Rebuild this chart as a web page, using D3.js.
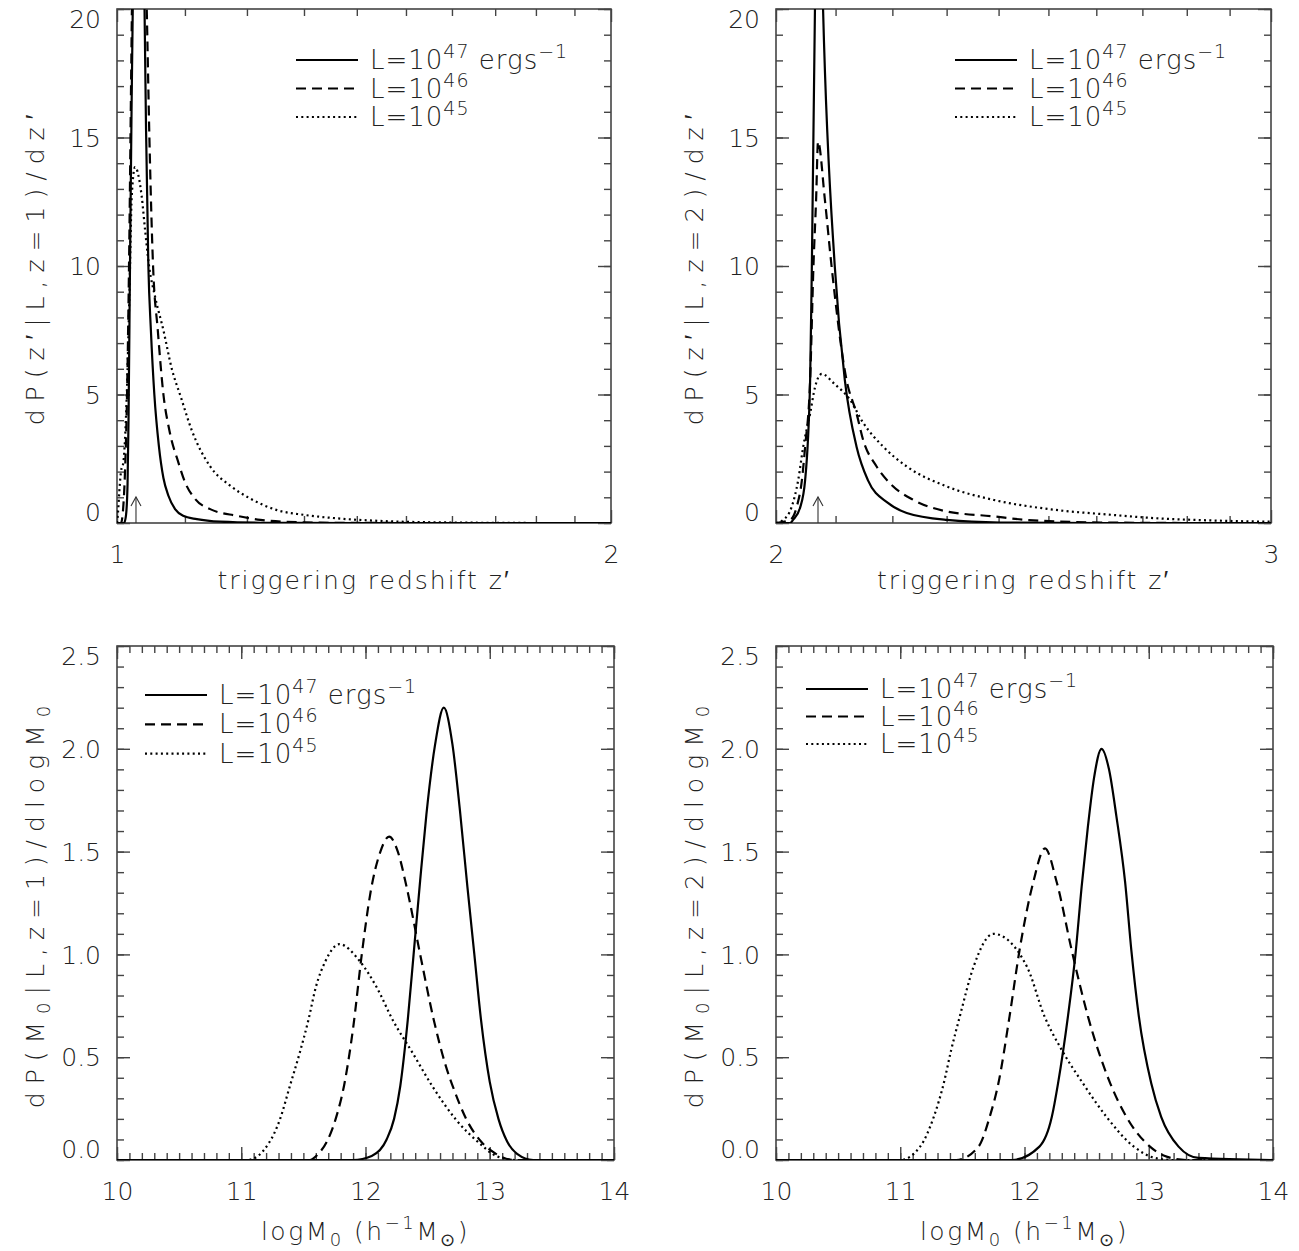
<!DOCTYPE html>
<html>
<head>
<meta charset="utf-8">
<script src="https://cdnjs.cloudflare.com/ajax/libs/d3/7.8.5/d3.min.js"></script>
<style>
body { margin: 0; background: #fff; }
svg { display: block; }
text { font-family: "DejaVu Sans", sans-serif; font-weight: 200; fill: #222; }
</style>
</head>
<body>
<script>
// top left: z = 1, triggering redshift z'
var zTL_L47 = [1.0, 1.0099, 1.0127, 1.0149, 1.0163, 1.0184, 1.0206, 1.0228, 1.0301, 1.0394, 1.0416, 1.0450, 1.0487, 1.0538, 1.0605, 1.0673, 1.0748, 1.0849, 1.0972, 1.1185, 1.1559, 1.2228, 1.4, 2.0];
var dpTL_L47 = [0, 0, 0.3, 1.5, 4, 10, 16, 21, 37, 20, 15.3, 10, 7.5, 5, 3, 1.75, 1.06, 0.54, 0.28, 0.15, 0.05, 0.01, 0, 0];
var zTL_L46 = [1.0, 1.0056, 1.0085, 1.0113, 1.0142, 1.0170, 1.0199, 1.0220, 1.0271, 1.0426, 1.0465, 1.0519, 1.0589, 1.0673, 1.0763, 1.0900, 1.1003, 1.1160, 1.1397, 1.1833, 1.2228, 1.2932, 1.3877, 1.6, 2.0];
var dpTL_L46 = [0, 0, 0.5, 2, 5, 10, 17, 22, 32, 20, 15, 10, 7.5, 5, 3.6, 2.35, 1.58, 0.93, 0.54, 0.28, 0.12, 0.03, 0.005, 0, 0];
var zTL_L45 = [1.0, 1.0014, 1.0032, 1.0056, 1.0089, 1.0137, 1.0175, 1.0209, 1.0256, 1.0353, 1.0402, 1.0460, 1.0549, 1.0673, 1.0799, 1.0937, 1.1107, 1.1397, 1.1721, 1.2057, 1.2519, 1.2987, 1.3620, 1.4474, 1.5974, 1.8303, 2.0];
var dpTL_L45 = [0, 0.4, 1.2, 2, 2.35, 4.9, 8.8, 12.7, 13.85, 12.7, 11.4, 10, 8.8, 7.5, 6.0, 4.9, 3.6, 2.2, 1.45, 0.95, 0.5, 0.32, 0.18, 0.08, 0.02, 0, 0];
var arrowTL = 1.027;

// top right: z = 2
var zTR_L47 = [2.0, 2.0232, 2.0282, 2.0399, 2.0483, 2.0567, 2.0596, 2.0651, 2.0708, 2.0786, 2.0986, 2.1160, 2.1364, 2.1563, 2.1920, 2.2260, 2.3003, 2.4033, 2.6096, 3.0];
var dpTR_L47 = [0, 0, 0.12, 0.6, 1.67, 5.56, 10, 20.5, 28, 20, 10, 5.56, 2.97, 1.67, 0.78, 0.39, 0.12, 0.02, 0, 0];
var zTR_L46 = [2.0, 2.0232, 2.0345, 2.0429, 2.0483, 2.0567, 2.0623, 2.0668, 2.0701, 2.0816, 2.0931, 2.1190, 2.1364, 2.1480, 2.1718, 2.2016, 2.2380, 2.3003, 2.3895, 2.4551, 2.6096, 2.8324, 3.0];
var dpTR_L46 = [0, 0.12, 0.65, 1.67, 2.97, 5.56, 10, 12.6, 14.84, 12.6, 10, 5.56, 4.26, 3.23, 2.2, 1.42, 0.9, 0.45, 0.26, 0.12, 0.02, 0, 0];
var zTR_L45 = [2.0, 2.0117, 2.0262, 2.0367, 2.0451, 2.0567, 2.0651, 2.0764, 2.0986, 2.1248, 2.1480, 2.1836, 2.2260, 2.3003, 2.3901, 2.5101, 2.6311, 2.7256, 2.8557, 3.0];
var dpTR_L45 = [0, 0.12, 0.65, 1.67, 2.97, 4.26, 5.3, 5.8, 5.4, 4.8, 3.9, 2.97, 2.2, 1.42, 0.9, 0.52, 0.32, 0.19, 0.1, 0.05];
var arrowTR = 2.07;

// bottom left: z = 1, log M0
var mBL_L47 = [10, 11.9, 12.05, 12.17, 12.23, 12.28, 12.34, 12.39, 12.44, 12.49, 12.56, 12.63, 12.70, 12.76, 12.82, 12.876, 12.93, 13.0, 13.07, 13.14, 13.22, 13.35, 14];
var dpBL_L47 = [0, 0, 0.02, 0.1, 0.2, 0.36, 0.68, 1.02, 1.36, 1.68, 2.02, 2.2, 2.02, 1.70, 1.33, 1.0, 0.68, 0.38, 0.2, 0.09, 0.03, 0, 0];
var mBL_L46 = [10, 11.55, 11.62, 11.69, 11.76, 11.83, 11.90, 11.97, 12.04, 12.12, 12.19, 12.26, 12.33, 12.44, 12.55, 12.64, 12.72, 12.81, 12.93, 13.05, 13.2, 14];
var dpBL_L46 = [0, 0, 0.03, 0.09, 0.2, 0.37, 0.64, 1.0, 1.3, 1.5, 1.573, 1.5, 1.33, 1.0, 0.68, 0.47, 0.33, 0.2, 0.09, 0.03, 0, 0];
var mBL_L45 = [10, 11.05, 11.22, 11.31, 11.39, 11.47, 11.54, 11.60, 11.68, 11.79, 11.95, 12.09, 12.22, 12.38, 12.54, 12.73, 12.92, 13.05, 13.2, 14];
var dpBL_L45 = [0, 0, 0.08, 0.195, 0.357, 0.52, 0.68, 0.84, 0.97, 1.05, 0.97, 0.84, 0.68, 0.52, 0.357, 0.195, 0.08, 0.02, 0, 0];

// bottom right: z = 2
var mBR_L47 = [10, 11.9, 12.12, 12.22, 12.27, 12.35, 12.41, 12.46, 12.51, 12.56, 12.62, 12.68, 12.74, 12.81, 12.86, 12.92, 13.02, 13.10, 13.24, 13.4, 14];
var dpBR_L47 = [0, 0, 0.065, 0.21, 0.373, 0.70, 1.0, 1.33, 1.62, 1.86, 2.0, 1.9, 1.67, 1.35, 1.02, 0.70, 0.373, 0.21, 0.065, 0.01, 0];
var mBR_L46 = [10, 11.45, 11.63, 11.72, 11.79, 11.88, 11.96, 12.07, 12.165, 12.26, 12.38, 12.51, 12.69, 12.82, 13.01, 13.15, 13.3, 14];
var dpBR_L46 = [0, 0, 0.065, 0.21, 0.373, 0.70, 1.02, 1.35, 1.516, 1.35, 1.02, 0.70, 0.373, 0.21, 0.065, 0.015, 0, 0];
var mBR_L45 = [10, 11.0, 11.16, 11.27, 11.35, 11.41, 11.48, 11.59, 11.75, 12.02, 12.16, 12.30, 12.47, 12.66, 12.88, 13.05, 13.2, 14];
var dpBR_L45 = [0, 0, 0.065, 0.21, 0.373, 0.535, 0.70, 0.94, 1.10, 0.94, 0.70, 0.535, 0.373, 0.21, 0.065, 0.01, 0, 0];

// ticks and labels
var topLeftXMajor = [1, 2];
var topLeftXMinor = [1.1, 1.2, 1.3, 1.4, 1.5, 1.6, 1.7, 1.8, 1.9];
var topRightXMajor = [2, 3];
var topRightXMinor = [2.1, 2.2, 2.3, 2.4, 2.5, 2.6, 2.7, 2.8, 2.9];
var topYMajor = [0, 5, 10, 15, 20];
var topYMinor = d3.range(0, 21, 1);
var bottomXMajor = [10, 11, 12, 13, 14];
var bottomXMinor = d3.range(100, 141, 1).map(d => d / 10);
var bottomYMajor = [0, 0.5, 1.0, 1.5, 2.0, 2.5];
var bottomYMinor = d3.range(0, 26, 1).map(d => d / 10);
var legendExponents = ["47", "46", "45"];

var dashStyles = [null, "10,6", "2,3.3"];

var svg = d3.select("body").append("svg").attr("width", 1299).attr("height", 1251);

var panels = [
    { left: 117, top: 9, width: 494, height: 514, log: true, xDomain: [1, 2], yDomain: [0, 20],
      xMajor: topLeftXMajor, xMinor: topLeftXMinor, yMajor: topYMajor, yMinor: topYMinor, yFormat: d3.format("d"),
      series: [[zTL_L47, dpTL_L47], [zTL_L46, dpTL_L46], [zTL_L45, dpTL_L45]],
      arrow: arrowTL, legend: { x: 296, y: 60, dy: 28.5 }, zText: "1", kind: "z" },
    { left: 776, top: 9, width: 495, height: 514, log: true, xDomain: [2, 3], yDomain: [0, 20],
      xMajor: topRightXMajor, xMinor: topRightXMinor, yMajor: topYMajor, yMinor: topYMinor, yFormat: d3.format("d"),
      series: [[zTR_L47, dpTR_L47], [zTR_L46, dpTR_L46], [zTR_L45, dpTR_L45]],
      arrow: arrowTR, legend: { x: 955, y: 60, dy: 28.5 }, zText: "2", kind: "z" },
    { left: 117, top: 646, width: 497, height: 514, log: false, xDomain: [10, 14], yDomain: [0, 2.5],
      xMajor: bottomXMajor, xMinor: bottomXMinor, yMajor: bottomYMajor, yMinor: bottomYMinor, yFormat: d3.format(".1f"),
      series: [[mBL_L47, dpBL_L47], [mBL_L46, dpBL_L46], [mBL_L45, dpBL_L45]],
      legend: { x: 145, y: 695, dy: 29.3 }, zText: "1", kind: "m" },
    { left: 776, top: 646, width: 497, height: 514, log: false, xDomain: [10, 14], yDomain: [0, 2.5],
      xMajor: bottomXMajor, xMinor: bottomXMinor, yMajor: bottomYMajor, yMinor: bottomYMinor, yFormat: d3.format(".1f"),
      series: [[mBR_L47, dpBR_L47], [mBR_L46, dpBR_L46], [mBR_L45, dpBR_L45]],
      legend: { x: 806, y: 689, dy: 27.5 }, zText: "2", kind: "m" }
];

panels.forEach(function (p, i) { drawPanel(p, i); });

function drawPanel(p, index) {
    var g = svg.append("g").attr("transform", "translate(" + p.left + "," + p.top + ")");
    var x = (p.log ? d3.scaleLog() : d3.scaleLinear()).domain(p.xDomain).range([0, p.width]);
    var y = d3.scaleLinear().domain(p.yDomain).range([p.height, 0]);

    g.append("clipPath").attr("id", "clip" + index)
        .append("rect").attr("width", p.width).attr("height", p.height);

    // minor ticks first, then major ticks, on all four sides
    axisOn(g.append("g").attr("transform", "translate(0," + p.height + ")"), d3.axisBottom(x).tickValues(p.xMinor).tickSize(-7).tickFormat(""));
    axisOn(g.append("g"), d3.axisTop(x).tickValues(p.xMinor).tickSize(-7).tickFormat(""));
    axisOn(g.append("g"), d3.axisLeft(y).tickValues(p.yMinor).tickSize(-7).tickFormat(""));
    axisOn(g.append("g").attr("transform", "translate(" + p.width + ",0)"), d3.axisRight(y).tickValues(p.yMinor).tickSize(-7).tickFormat(""));

    var xAxis = g.append("g").attr("transform", "translate(0," + p.height + ")");
    axisOn(xAxis, d3.axisBottom(x).tickValues(p.xMajor).tickSize(-13).tickPadding(22).tickFormat(d3.format("d")));
    axisOn(g.append("g"), d3.axisTop(x).tickValues(p.xMajor).tickSize(-13).tickFormat(""));
    var yAxis = g.append("g");
    axisOn(yAxis, d3.axisLeft(y).tickValues(p.yMajor).tickSize(-13).tickPadding(16).tickFormat(p.yFormat));
    axisOn(g.append("g").attr("transform", "translate(" + p.width + ",0)"), d3.axisRight(y).tickValues(p.yMajor).tickSize(-13).tickFormat(""));

    xAxis.selectAll("text").attr("font-size", 25).attr("dy", "0.71em");
    yAxis.selectAll("text").attr("font-size", 25).attr("dy", function (d, k, all) {
        if (k === 0) return "-0.1em";
        if (k === all.length - 1) return "0.75em";
        return "0.35em";
    });

    g.append("rect").attr("width", p.width).attr("height", p.height)
        .attr("fill", "none").attr("stroke", "#444").attr("stroke-width", 1.6);

    var line = d3.line().curve(d3.curveMonotoneX).x(d => x(d[0])).y(d => y(d[1]));
    var curves = g.append("g").attr("clip-path", "url(#clip" + index + ")");
    p.series.forEach(function (s, k) {
        var pts = s[0].map((v, j) => [v, s[1][j]]);
        curves.append("path").datum(pts)
            .attr("fill", "none").attr("stroke", "#000").attr("stroke-width", 2.2)
            .attr("stroke-dasharray", dashStyles[k])
            .attr("d", line);
    });

    if (p.arrow) {
        var ax = x(p.arrow);
        var a = g.append("g").attr("stroke", "#333").attr("stroke-width", 1.1).attr("fill", "none");
        a.append("line").attr("x1", ax).attr("x2", ax).attr("y1", y(0)).attr("y2", y(0) - 26);
        a.append("path").attr("d", "M" + (ax - 5) + "," + (y(0) - 17) + "L" + ax + "," + (y(0) - 26) + "L" + (ax + 5) + "," + (y(0) - 17));
    }

    // legend
    legendExponents.forEach(function (e, k) {
        var ly = p.legend.y + k * p.legend.dy;
        svg.append("line").attr("x1", p.legend.x).attr("x2", p.legend.x + 62)
            .attr("y1", ly).attr("y2", ly).attr("stroke", "#000").attr("stroke-width", 2.2)
            .attr("stroke-dasharray", dashStyles[k]);
        var t = svg.append("text").attr("x", p.legend.x + 74).attr("y", ly + 9).attr("font-size", 26).attr("letter-spacing", 1);
        t.append("tspan").text("L=10");
        t.append("tspan").attr("dy", -11).attr("font-size", 19).text(e);
        if (k === 0) {
            t.append("tspan").attr("dy", 11).text("  ergs");
            t.append("tspan").attr("dy", -11).attr("font-size", 19).text("−1");
        }
    });

    // axis titles
    var cx = p.left + p.width / 2;
    var cy = p.top + p.height / 2;
    if (p.kind === "z") {
        svg.append("text").attr("x", cx).attr("y", p.top + p.height + 66).attr("text-anchor", "middle")
            .attr("font-size", 25).attr("letter-spacing", 2).text("triggering redshift z′");
        svg.append("text").attr("transform", "translate(" + (p.left - 73) + "," + cy + ") rotate(-90)")
            .attr("text-anchor", "middle").attr("font-size", 25).attr("letter-spacing", 8)
            .text("dP(z′|L,z=" + p.zText + ")/dz′");
    } else {
        var xt = svg.append("text").attr("x", cx).attr("y", p.top + p.height + 80).attr("text-anchor", "middle")
            .attr("font-size", 25).attr("letter-spacing", 2.5);
        xt.append("tspan").text("logM");
        xt.append("tspan").attr("dy", 6).attr("font-size", 18).text("0");
        xt.append("tspan").attr("dy", -6).text("  (h");
        xt.append("tspan").attr("dy", -11).attr("font-size", 18).text("−1");
        xt.append("tspan").attr("dy", 11).text("M");
        xt.append("tspan").attr("dy", 6).attr("font-size", 18).text("⊙");
        xt.append("tspan").attr("dy", -6).text(")");
        var yt = svg.append("text").attr("transform", "translate(" + (p.left - 73) + "," + cy + ") rotate(-90)")
            .attr("text-anchor", "middle").attr("font-size", 25).attr("letter-spacing", 8);
        yt.append("tspan").text("dP(M");
        yt.append("tspan").attr("dy", 6).attr("font-size", 18).text("0");
        yt.append("tspan").attr("dy", -6).text("|L,z=" + p.zText + ")/dlogM");
        yt.append("tspan").attr("dy", 6).attr("font-size", 18).text("0");
    }
}

function axisOn(sel, axis) {
    sel.call(axis);
    sel.select(".domain").remove();
    sel.selectAll(".tick line").attr("stroke", "#444").attr("stroke-width", 1.4);
    sel.selectAll(".tick text").attr("fill", "#222").attr("font-family", "DejaVu Sans").attr("font-weight", 200);
}
</script>
</body>
</html>
